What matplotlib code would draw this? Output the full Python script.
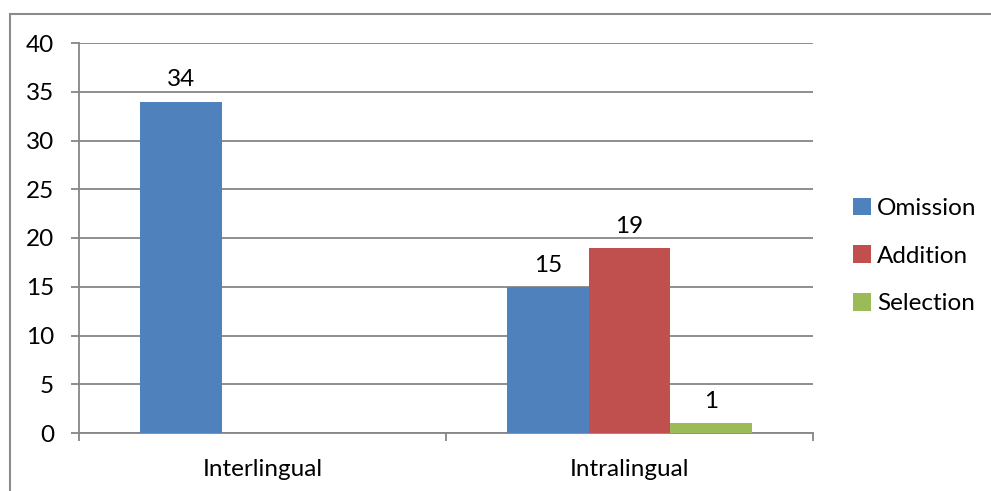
import matplotlib
matplotlib.use("Agg")
import matplotlib.pyplot as plt
from matplotlib.lines import Line2D
from matplotlib.patches import Patch
import numpy as np

categories = ["Interlingual", "Intralingual"]
series_names = ["Omission", "Addition", "Selection"]
omission = [34, 15]
addition = [0, 19]
selection = [0, 1]
yticks = [0, 5, 10, 15, 20, 25, 30, 35, 40]

colors = ["#4F81BD", "#C0504D", "#9BBB59"]
grid_color = "#868686"
font = "Lato"
fs = 17.5

fig = plt.figure(figsize=(9.91, 4.91), dpi=100)
ax = fig.add_axes([79/991, 1-433/491, (813-79)/991, (433-43)/491])

centers = np.arange(len(categories)) + 0.5
width = 0.2222
for i, (name, vals) in enumerate(zip(series_names, [omission, addition, selection])):
    xs = centers + (i - 1) * width
    ax.bar(xs, vals, width=width, color=colors[i], linewidth=0, zorder=3)
    for x, v in zip(xs, vals):
        if v > 0:
            ax.annotate(str(v), (x, v), xytext=(0, 8), textcoords="offset points",
                        ha="center", va="bottom", fontsize=fs, family=font, color="black")

ax.set_xlim(0, 2)
ax.set_ylim(0, 40)
ax.set_yticks(yticks)
ax.set_yticklabels([str(t) for t in yticks], fontsize=fs, family=font)
ax.yaxis.grid(True, color=grid_color, linewidth=1.3, zorder=0)
ax.set_axisbelow(True)

ax.set_xticks(centers)
ax.set_xticklabels(categories, fontsize=fs, family=font)
ax.set_xticks([0, 1, 2], minor=True)
ax.tick_params(axis="x", which="major", length=0, pad=19)
ax.tick_params(axis="x", which="minor", length=6, color=grid_color, width=1.3)
ax.tick_params(axis="y", length=6, color=grid_color, width=1.3, pad=12)

for s in ["top", "right"]:
    ax.spines[s].set_visible(False)
for s in ["left", "bottom"]:
    ax.spines[s].set_color(grid_color)
    ax.spines[s].set_linewidth(1.3)

handles = [Patch(facecolor=c, edgecolor="none") for c in colors]
fig.legend(handles, series_names, loc="center left", bbox_to_anchor=(853/991, 1-256/491),
           frameon=False, prop={"family": font, "size": fs}, handlelength=0.75,
           handleheight=0.75, handletextpad=0.25, labelspacing=1.08, borderpad=0,
           borderaxespad=0)

# outer chart border (top and left visible)
fig.add_artist(Line2D([9.5/991, 9.5/991], [0, 1-13.5/491], color="#8c8c8c", linewidth=1.5,
                      transform=fig.transFigure))
fig.add_artist(Line2D([9.5/991, 1], [1-13.5/491, 1-13.5/491], color="#8c8c8c", linewidth=1.5,
                      transform=fig.transFigure))

fig.savefig("out.png", dpi=100)
